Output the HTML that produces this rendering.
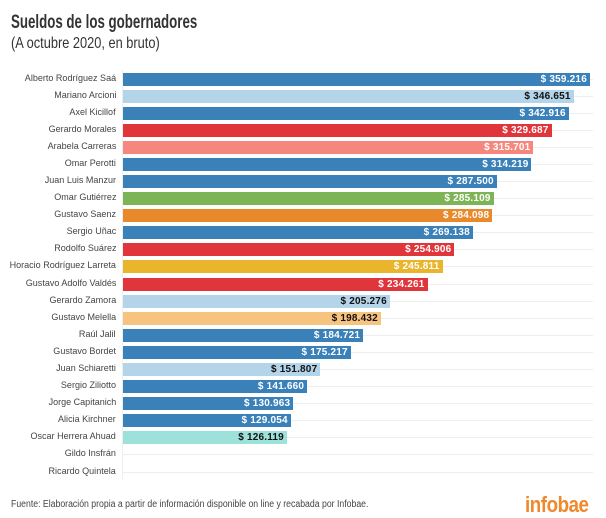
<!DOCTYPE html>
<html><head><meta charset="utf-8"><style>
body{margin:0;width:606px;height:518px;background:#fff;font-family:"Liberation Sans",sans-serif;position:relative;overflow:hidden}
.t{position:absolute;left:11px;top:12px;font-size:19px;font-weight:bold;color:#333;transform:scaleX(0.7);transform-origin:left;white-space:nowrap}
.s{position:absolute;left:11px;top:35px;font-size:16px;color:#333;transform:scaleX(0.8);transform-origin:left;white-space:nowrap}
.row{position:absolute;left:0;width:606px;height:17px}
.lab{position:absolute;right:490px;top:2px;font-size:9.5px;color:#444;white-space:nowrap;transform:scaleX(0.95);transform-origin:right}
.grid{position:absolute;left:123px;width:470px;top:8px;border-top:1px solid #eee}
.bar{position:absolute;left:123px;top:2px;height:13px}
.v{position:absolute;right:3px;top:1px;font-size:10px;font-weight:bold;color:#fff;letter-spacing:0.2px}
.d .v{color:#111}
.f{position:absolute;left:11px;top:499px;font-size:10px;color:#444;transform:scaleX(0.87);transform-origin:left;white-space:nowrap}
.logo{position:absolute;left:525px;top:492px;font-size:22px;font-weight:bold;color:#f0892a;letter-spacing:-0.5px;transform:scaleX(0.85);transform-origin:left}
</style></head><body>
<div class="t">Sueldos de los gobernadores</div>
<div class="s">(A octubre 2020, en bruto)</div>
<div style="position:absolute;left:122px;top:70px;height:410px;border-left:1px solid #eee"></div>
<div id="c"></div>
<div class="f">Fuente: Elaboración propia a partir de información disponible on line y recabada por Infobae.</div>
<div class="logo">infobae</div>
<script>
var D=[["Alberto Rodríguez Saá",359216,"#3a80b9"],["Mariano Arcioni",346651,"#b4d4e9",1],["Axel Kicillof",342916,"#3a80b9"],["Gerardo Morales",329687,"#e0363b"],["Arabela Carreras",315701,"#f5877f"],["Omar Perotti",314219,"#3a80b9"],["Juan Luis Manzur",287500,"#3a80b9"],["Omar Gutiérrez",285109,"#7db455"],["Gustavo Saenz",284098,"#e8892b"],["Sergio Uñac",269138,"#3a80b9"],["Rodolfo Suárez",254906,"#e0363b"],["Horacio Rodríguez Larreta",245811,"#e9b52c"],["Gustavo Adolfo Valdés",234261,"#e0363b"],["Gerardo Zamora",205276,"#b4d4e9",1],["Gustavo Melella",198432,"#f7c47f",1],["Raúl Jalil",184721,"#3a80b9"],["Gustavo Bordet",175217,"#3a80b9"],["Juan Schiaretti",151807,"#b4d4e9",1],["Sergio Ziliotto",141660,"#3a80b9"],["Jorge Capitanich",130963,"#3a80b9"],["Alicia Kirchner",129054,"#3a80b9"],["Oscar Herrera Ahuad",126119,"#9de2da",1],["Gildo Insfrán",0],["Ricardo Quintela",0]];
var h="";D.forEach(function(r,i){var y=70.5+i*17.09;h+='<div class="row" style="top:'+y+'px"><div class="lab">'+r[0]+'</div><div class="grid"></div>';
if(r[1]){var w=r[1]*0.0013;var s=r[1].toString();s=s.slice(0,3)+"."+s.slice(3);h+='<div class="bar'+(r[3]?' d':'')+'" style="width:'+w+'px;background:'+r[2]+'"><div class="v">$ '+s+'</div></div>';}
h+='</div>';});document.getElementById("c").innerHTML=h;
</script>
</body></html>
